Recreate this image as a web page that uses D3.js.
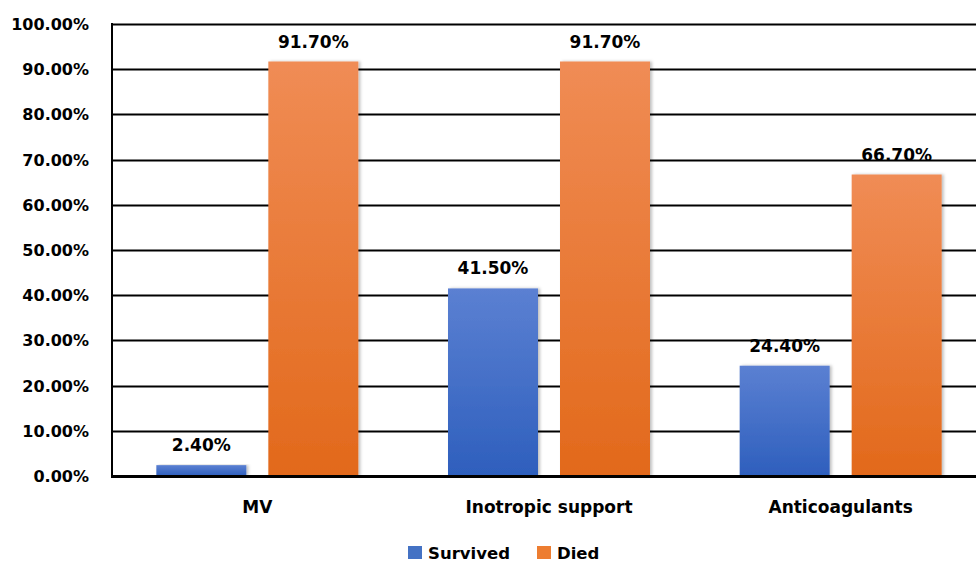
<!DOCTYPE html>
<html>
<head>
<meta charset="utf-8">
<script src="https://cdn.jsdelivr.net/npm/d3@7"></script>
<style>
  html, body { margin: 0; padding: 0; background: #fff; }
  svg { display: block; }
  text { font-family: "DejaVu Sans", Verdana, sans-serif; font-weight: bold; fill: #000; }
</style>
</head>
<body>
<svg id="chart" width="976" height="563"></svg>
<script>
// Treatment groups and outcome percentages
const categories = ["MV", "Inotropic support", "Anticoagulants"];
const seriesNames = ["Survived", "Died"];
const survived = [2.4, 41.5, 24.4];
const died = [91.7, 91.7, 66.7];
const yTicks = [0, 10, 20, 30, 40, 50, 60, 70, 80, 90, 100];

const svg = d3.select("#chart");
const W = 976;
const margin = { left: 112, top: 24, bottom: 476 };
const plotRight = 987;

const x0 = d3.scaleBand().domain(categories).range([margin.left, plotRight]);
const y = d3.scaleLinear().domain([0, 100]).range([margin.bottom, margin.top]);

const defs = svg.append("defs");
function grad(id, top, bottom) {
  const g = defs.append("linearGradient").attr("id", id).attr("x1", 0).attr("y1", 0).attr("x2", 0).attr("y2", 1);
  g.append("stop").attr("offset", "0%").attr("stop-color", top);
  g.append("stop").attr("offset", "100%").attr("stop-color", bottom);
}
grad("gSurv", "#5b80d2", "#2e5fbd");
grad("gDied", "#f08c55", "#e2691b");
const f = defs.append("filter").attr("id", "shadow").attr("x", "-10%").attr("y", "-10%").attr("width", "130%").attr("height", "120%");
f.append("feDropShadow").attr("dx", 2).attr("dy", 0).attr("stdDeviation", 1.5).attr("flood-color", "#000").attr("flood-opacity", 0.25);

// Gridlines
svg.append("g").selectAll("line").data(yTicks.filter(d => d > 0)).join("line")
  .attr("x1", margin.left).attr("x2", W)
  .attr("y1", d => Math.round(y(d)) + 0.5).attr("y2", d => Math.round(y(d)) + 0.5)
  .attr("stroke", "#000").attr("stroke-width", 2);

// Y-axis tick labels
svg.append("g").selectAll("text").data(yTicks).join("text")
  .attr("x", 89).attr("y", d => y(d) + 6)
  .attr("text-anchor", "end").attr("font-size", 16)
  .text(d => d3.format(".2f")(d) + "%");

// Bars
const fills = { Survived: "url(#gSurv)", Died: "url(#gDied)" };
const rows = categories.map((c, i) => ({ c, vals: [
  { s: "Survived", v: survived[i] }, { s: "Died", v: died[i] }
]}));
const barW = 90, gap = 22, groupW = 2 * barW + gap;
const offset = { Survived: 0, Died: barW + gap };
const groupStart = c => x0(c) + (x0.bandwidth() - groupW) / 2 - 0.5;

const groups = svg.append("g").selectAll("g").data(rows).join("g");
groups.selectAll("rect").data(d => d.vals.map(v => ({ ...v, c: d.c }))).join("rect")
  .attr("x", d => groupStart(d.c) + offset[d.s])
  .attr("width", barW)
  .attr("y", d => y(d.v))
  .attr("height", d => y(0) - y(d.v))
  .attr("fill", d => fills[d.s])
  .attr("filter", "url(#shadow)");

groups.selectAll("text").data(d => d.vals.map(v => ({ ...v, c: d.c }))).join("text")
  .attr("x", d => groupStart(d.c) + offset[d.s] + barW / 2)
  .attr("y", d => y(d.v) - 14)
  .attr("text-anchor", "middle").attr("font-size", 17)
  .text(d => d3.format(".2f")(d.v) + "%");

// Axis lines
svg.append("line").attr("x1", margin.left).attr("x2", margin.left)
  .attr("y1", margin.top - 1).attr("y2", margin.bottom + 1)
  .attr("stroke", "#000").attr("stroke-width", 2);
svg.append("line").attr("x1", margin.left - 1).attr("x2", W)
  .attr("y1", margin.bottom + 0.5).attr("y2", margin.bottom + 0.5)
  .attr("stroke", "#000").attr("stroke-width", 3);

// Category labels
svg.append("g").selectAll("text").data(categories).join("text")
  .attr("x", c => groupStart(c) + groupW / 2).attr("y", 513)
  .attr("text-anchor", "middle").attr("font-size", 17)
  .text(c => c);

// Legend
const legend = [
  { s: "Survived", color: "#4472c4", x: 408 },
  { s: "Died", color: "#ed7d31", x: 537 }
];
const lg = svg.append("g").selectAll("g").data(legend).join("g")
  .attr("transform", d => `translate(${d.x},546)`);
lg.append("rect").attr("width", 14).attr("height", 13).attr("fill", d => d.color);
lg.append("text").attr("x", 20).attr("y", 13).attr("font-size", 16.5).text(d => d.s);
</script>
</body>
</html>
